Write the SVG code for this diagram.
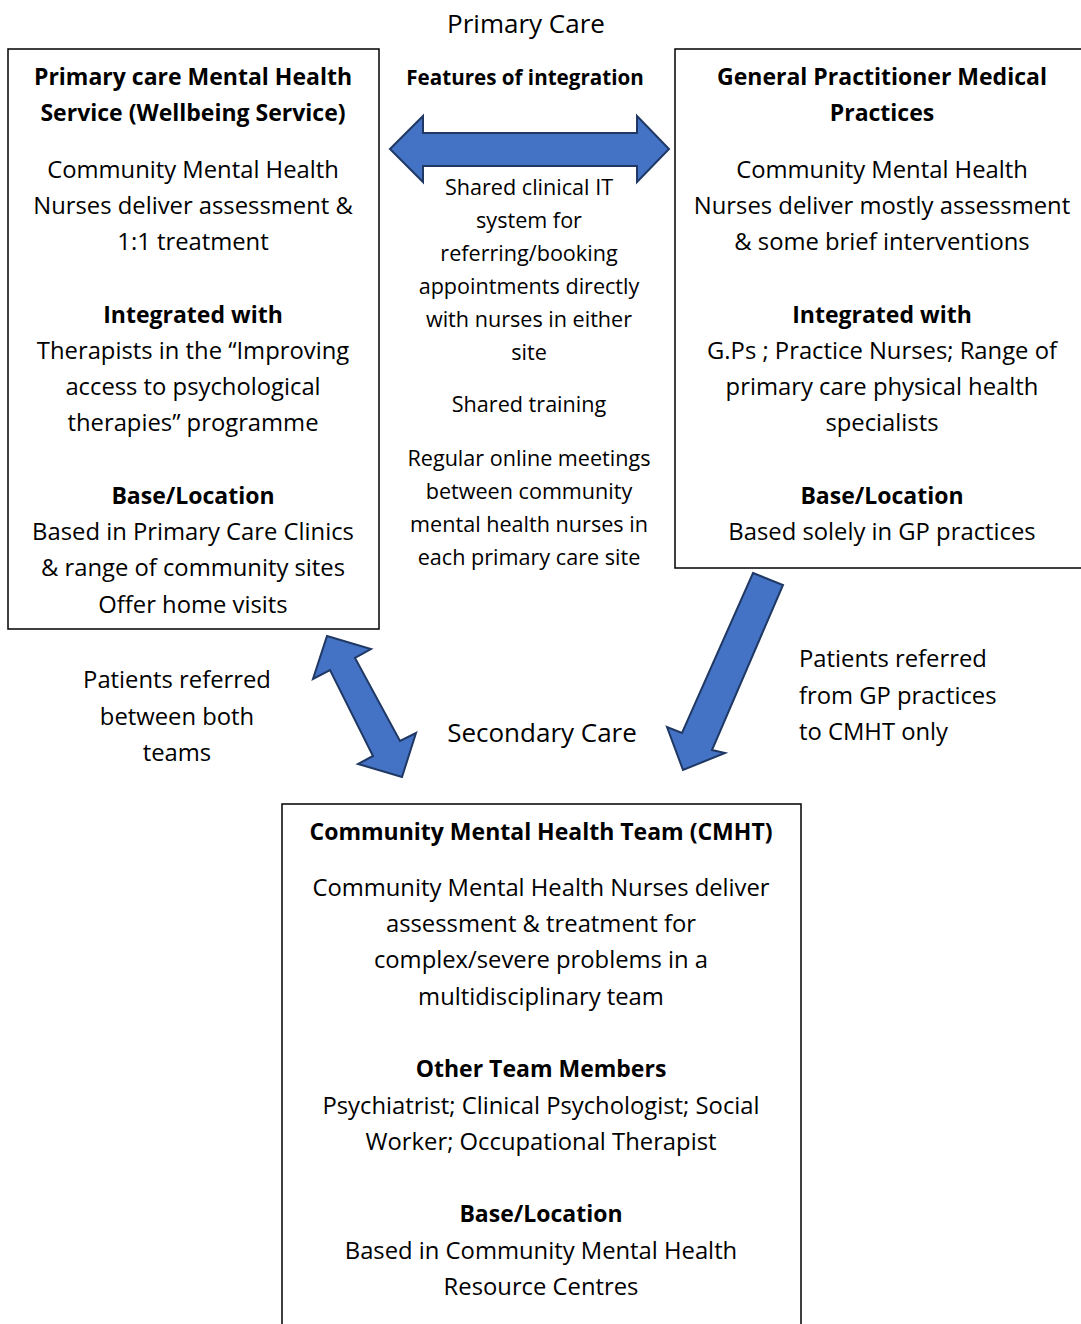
<svg xmlns="http://www.w3.org/2000/svg" width="1081" height="1324" viewBox="0 0 1081 1324">
<style>
text{font-family:"Open Sans","Noto Sans",sans-serif;fill:#000;text-anchor:middle}
.b{font-size:23.8px}
.h{font-size:23px;font-weight:bold}
.c{font-size:21.6px}
.ch{font-size:20.6px;font-weight:bold}
.t{font-size:26px}
.box{fill:#fff;stroke:#000;stroke-width:1.5}
.arr{fill:#4472C4;stroke:#1F3864;stroke-width:2;stroke-linejoin:miter}
</style>
<rect width="1081" height="1324" fill="#fff"/>
<text class="t" x="526" y="33">Primary Care</text>
<text class="t" x="542" y="742">Secondary Care</text>

<g id="node-primary-mh">
<rect class="box" x="8" y="49" width="371" height="580"/>
<text class="h" x="193" y="85">Primary care Mental Health</text>
<text class="h" x="193" y="121">Service (Wellbeing Service)</text>
<text class="b" x="193" y="178">Community Mental Health</text>
<text class="b" x="193" y="214">Nurses deliver assessment &amp;</text>
<text class="b" x="193" y="250">1:1 treatment</text>
<text class="h" x="193" y="323">Integrated with</text>
<text class="b" x="193" y="359">Therapists in the “Improving</text>
<text class="b" x="193" y="395">access to psychological</text>
<text class="b" x="193" y="431">therapies” programme</text>
<text class="h" x="193" y="504">Base/Location</text>
<text class="b" x="193" y="540">Based in Primary Care Clinics</text>
<text class="b" x="193" y="576">&amp; range of community sites</text>
<text class="b" x="193" y="613">Offer home visits</text>
</g>

<g id="node-gp">
<rect class="box" x="675" y="49" width="410" height="519"/>
<text class="h" x="882" y="85">General Practitioner Medical</text>
<text class="h" x="882" y="121">Practices</text>
<text class="b" x="882" y="178">Community Mental Health</text>
<text class="b" x="882" y="214">Nurses deliver mostly assessment</text>
<text class="b" x="882" y="250">&amp; some brief interventions</text>
<text class="h" x="882" y="323">Integrated with</text>
<text class="b" x="882" y="359">G.Ps ; Practice Nurses; Range of</text>
<text class="b" x="882" y="395">primary care physical health</text>
<text class="b" x="882" y="431">specialists</text>
<text class="h" x="882" y="504">Base/Location</text>
<text class="b" x="882" y="540">Based solely in GP practices</text>
</g>

<g id="node-features">
<text class="ch" x="525" y="85">Features of integration</text>
<text class="c" x="529" y="195">Shared clinical IT</text>
<text class="c" x="529" y="228">system for</text>
<text class="c" x="529" y="261">referring/booking</text>
<text class="c" x="529" y="294">appointments directly</text>
<text class="c" x="529" y="327">with nurses in either</text>
<text class="c" x="529" y="360">site</text>
<text class="c" x="529" y="412">Shared training</text>
<text class="c" x="529" y="466">Regular online meetings</text>
<text class="c" x="529" y="499">between community</text>
<text class="c" x="529" y="532">mental health nurses in</text>
<text class="c" x="529" y="565">each primary care site</text>
</g>

<g id="node-cmht">
<rect class="box" x="282" y="804" width="519" height="530"/>
<text class="h" x="541" y="840">Community Mental Health Team (CMHT)</text>
<text class="b" x="541" y="896">Community Mental Health Nurses deliver</text>
<text class="b" x="541" y="932">assessment &amp; treatment for</text>
<text class="b" x="541" y="968">complex/severe problems in a</text>
<text class="b" x="541" y="1005">multidisciplinary team</text>
<text class="h" x="541" y="1077">Other Team Members</text>
<text class="b" x="541" y="1114">Psychiatrist; Clinical Psychologist; Social</text>
<text class="b" x="541" y="1150">Worker; Occupational Therapist</text>
<text class="h" x="541" y="1222">Base/Location</text>
<text class="b" x="541" y="1259">Based in Community Mental Health</text>
<text class="b" x="541" y="1295">Resource Centres</text>
</g>

<g id="connectors">
<polygon class="arr" points="390,149 423,116 423,133 637,133 637,116 669,149 637,182 637,166 423,166 423,182"/>
<polygon class="arr" points="327,636 371,649 355,658 400,741 416,733 402,777 358,764 373,756 330,670 313,679"/>
<polygon class="arr" points="753,573 783,585 712,750 725,753 683,770 667,727 682,733"/>
<text class="b" x="177" y="688">Patients referred</text>
<text class="b" x="177" y="725">between both</text>
<text class="b" x="177" y="761">teams</text>
<text class="b" x="799" y="667" style="text-anchor:start">Patients referred</text>
<text class="b" x="799" y="704" style="text-anchor:start">from GP practices</text>
<text class="b" x="799" y="740" style="text-anchor:start">to CMHT only</text>
</g>
</svg>
